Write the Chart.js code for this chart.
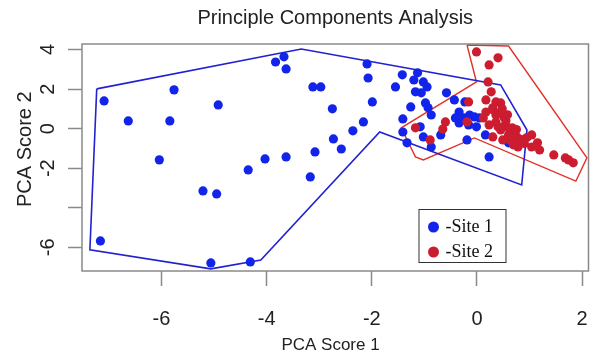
<!DOCTYPE html>
<html>
<head>
<meta charset="utf-8">
<title>Principle Components Analysis</title>
<script src="https://cdn.jsdelivr.net/npm/chart.js@4/dist/chart.umd.min.js"></script>
<style>
  html, body { margin: 0; padding: 0; background: #fff; }
  #wrap { width: 609px; height: 356px; position: relative; }
</style>
</head>
<body>
<div id="wrap"><canvas id="pca"></canvas></div>
<script>
// 数据
const site1X = [-7.09, -5.76, -4.92, -6.63, -5.84, -6.04, -5.21, -4.95, -7.16, -5.06,
  -3.83, -3.67, -3.63, -3.12, -2.97, -2.09, -2.07, -1.55, -1.99, -2.75,
  -2.16, -2.36, -2.73, -2.58, -3.08, -3.63, -4.03, -4.35, -3.17, -4.31,
  -1.42, -1.13, -1.20, -1.02, -0.95, -1.17, -1.06, -1.26, -0.98, -0.93,
  -0.87, -1.41, -1.08, -1.41, -1.02, -1.33, -0.87, -0.58, -0.43, -0.23,
  -0.34, -0.25, -0.14, -0.05, 0.05, -0.34, -0.16, -0.01, -0.69, -0.19,
  0.16, 0.23, 0.60, -0.41];
const site1Y = [1.40, 1.96, 1.20, 0.39, 0.39, -1.58, -3.15, -3.30, -5.68, -6.79,
  3.37, 3.63, 3.02, 2.11, 2.11, 3.27, 2.56, 2.11, 1.35, 1.00,
  0.34, -0.11, -0.52, -1.03, -1.18, -1.43, -1.53, -2.09, -2.44, -6.74,
  2.72, 2.82, 2.46, 2.36, 2.11, 1.86, 1.81, 1.10, 1.30, 1.05,
  0.69, 0.49, 0.09, -0.17, -0.42, -0.72, -0.93, 1.81, 1.45, 1.35,
  0.84, 0.54, 0.69, 0.59, 0.54, 0.29, 0.19, 0.09, -0.32, -0.57,
  -0.32, -1.43, -0.72, 0.54];

const site2X = [-0.01, 0.23, 0.40, 0.21, 0.27, -0.16, 0.17, 0.36, 0.45, 0.30,
  0.17, 0.41, 0.51, 0.36, 0.23, 0.54, 0.67, 0.45, 0.60, 0.76,
  0.82, 0.69, 0.78, 1.04, 1.15, 1.04, 1.19, 1.46, 1.68, 1.83,
  1.74, -0.60, -0.65, -0.89, -1.17, -0.19, 0.12, 0.30, 0.49, 0.63,
  0.36, 0.30, 0.55, 0.70, 0.85, 0.62, 0.40, 0.58, 0.48, 0.75,
  0.90, 0.95];
const site2Y = [3.88, 3.22, 3.58, 2.36, 1.86, 1.35, 1.45, 1.35, 1.30, 1.05,
  0.84, 0.79, 0.59, 0.34, 0.19, 0.19, 0.04, -0.07, -0.32, -0.42,
  -0.67, -0.82, -0.93, -0.32, -0.72, -0.93, -1.08, -1.33, -1.48, -1.73,
  -1.58, 0.34, -0.02, -0.57, 0.04, 0.34, 0.54, -0.42, -0.57, -0.57,
  0.69, 0.95, 0.40, -0.20, -0.55, -0.05, 0.10, 0.70, 1.00, -0.05,
  -0.75, -0.45];

// 包络线顶点
const hull1X = [-7.23, -3.34, 0.45, 0.95, 0.85, -1.85, -4.11, -5.06, -7.36];
const hull1Y = [2.01, 4.03, 2.21, -0.07, -2.85, -0.17, -6.64, -7.09, -6.13];
const hull2X = [-0.19, 0.60, 2.09, 1.88, -0.05, -1.02, -1.17, -1.44, -0.01];
const hull2Y = [4.23, 4.18, -1.48, -2.65, -0.47, -1.58, -1.43, 0.04, 2.36];

const xTicks = [-6, -4, -2, 0, 2];
const yTicks = [-6, -4, -2, 0, 2, 4];
const yTickLabels = ['-6', '', '-2', '0', '2', '4'];

const toPoints = (xs, ys) => xs.map((x, i) => ({ x: x, y: ys[i] }));
const closed = pts => pts.concat([pts[0]]);

const sans = "'Liberation Sans', Arial, Helvetica, sans-serif";
const serif = "'Liberation Serif', 'Times New Roman', serif";
const axisGray = '#8a8a8a';

// 绘图区外框
const boxPlugin = {
    id: 'plotBox',
    afterDatasetsDraw(chart) {
        const { ctx, chartArea: a } = chart;
        ctx.save();
        ctx.strokeStyle = axisGray;
        ctx.lineWidth = 1.5;
        ctx.strokeRect(a.left, a.top, a.right - a.left, a.bottom - a.top);
        ctx.restore();
    }
};

// 图例（画在绘图区右下角）
const legendPlugin = {
    id: 'siteLegend',
    afterDraw(chart) {
        const { ctx, chartArea: a } = chart;
        const w = 87, h = 53;
        const left = a.right - 83 - w;
        const top = a.bottom - 9 - h;
        ctx.save();
        ctx.fillStyle = '#fff';
        ctx.fillRect(left, top, w, h);
        ctx.strokeStyle = '#333';
        ctx.lineWidth = 1;
        ctx.strokeRect(left + 0.5, top + 0.5, w, h);
        ctx.font = '18px ' + serif;
        ctx.textBaseline = 'middle';
        chart.data.datasets.filter(d => d.inLegend).forEach((d, i) => {
            const cy = top + 18 + i * 25;
            ctx.fillStyle = d.backgroundColor;
            ctx.beginPath();
            ctx.arc(left + 15, cy, 5.5, 0, Math.PI * 2);
            ctx.fill();
            ctx.fillStyle = '#111';
            ctx.fillText(d.label, left + 27, cy);
        });
        ctx.restore();
    }
};

new Chart(document.getElementById('pca'), {
    type: 'scatter',
    data: {
        datasets: [
            {
                label: '-Site 1',
                inLegend: true,
                data: toPoints(site1X, site1Y),
                backgroundColor: '#1224ea',
                borderWidth: 0,
                pointRadius: 4.6,
                order: 2
            },
            {
                label: '-Site 2',
                inLegend: true,
                data: toPoints(site2X, site2Y),
                backgroundColor: '#cc1c30',
                borderWidth: 0,
                pointRadius: 4.6,
                order: 1
            },
            {
                label: 'hull 1',
                data: closed(toPoints(hull1X, hull1Y)),
                showLine: true,
                borderColor: '#2222d0',
                borderWidth: 1.6,
                pointRadius: 0,
                tension: 0,
                fill: false,
                order: 3
            },
            {
                label: 'hull 2',
                data: closed(toPoints(hull2X, hull2Y)),
                showLine: true,
                borderColor: '#e2332a',
                borderWidth: 1.4,
                pointRadius: 0,
                tension: 0,
                fill: false,
                order: 4
            }
        ]
    },
    options: {
        responsive: true,
        maintainAspectRatio: false,
        animation: false,
        layout: { padding: { left: 0, right: 3, top: 0, bottom: 0 } },
        plugins: {
            legend: { display: false },
            tooltip: { enabled: false },
            title: {
                display: true,
                text: 'Principle Components Analysis',
                fullSize: false,
                color: '#222',
                font: { family: sans, size: 20, weight: 'normal' },
                padding: { top: 6, bottom: 14 }
            }
        },
        scales: {
            x: {
                type: 'linear',
                min: -7.51,
                max: 2.12,
                afterBuildTicks: s => { s.ticks = xTicks.map(v => ({ value: v })); },
                afterFit: s => { s.height = 85; },
                border: { display: false },
                grid: { drawOnChartArea: false, drawTicks: true, tickLength: 15, tickColor: axisGray, tickWidth: 1.5 },
                ticks: { color: '#222', font: { family: sans, size: 20 }, padding: 21, maxRotation: 0, autoSkip: false },
                title: {
                    display: true,
                    text: 'PCA Score 1  ',
                    color: '#222',
                    font: { family: sans, size: 17 },
                    padding: { top: 0, bottom: 0 }
                }
            },
            y: {
                type: 'linear',
                min: -7.2,
                max: 4.28,
                afterBuildTicks: s => { s.ticks = yTicks.map(v => ({ value: v })); },
                afterFit: s => { s.width = 82; },
                border: { display: false },
                grid: { drawOnChartArea: false, drawTicks: true, tickLength: 14, tickColor: axisGray, tickWidth: 1.5 },
                ticks: {
                    color: '#222',
                    font: { family: sans, size: 20 },
                    callback: v => yTickLabels[yTicks.indexOf(v)],
                    minRotation: 90,
                    maxRotation: 90,
                    crossAlign: 'center',
                    padding: 11,
                    autoSkip: false
                },
                title: {
                    display: true,
                    text: '   PCA Score 2',
                    color: '#222',
                    font: { family: sans, size: 20 },
                    padding: { top: 13, bottom: 0 }
                }
            }
        }
    },
    plugins: [boxPlugin, legendPlugin]
});
</script>
</body>
</html>
